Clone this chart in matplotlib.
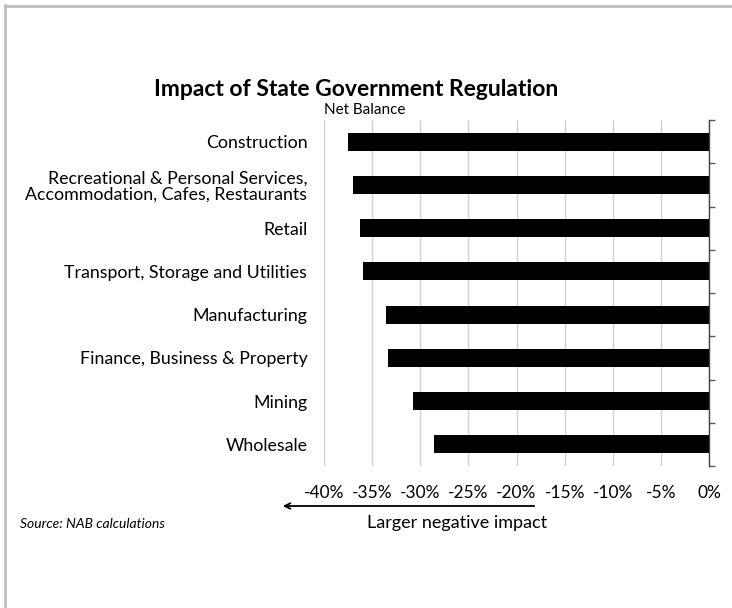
import numpy as np
import matplotlib
matplotlib.use("Agg")
import matplotlib.pyplot as plt
from matplotlib.ticker import FixedLocator, FuncFormatter
from matplotlib.lines import Line2D

plt.rcParams['font.family'] = ['Lato', 'DejaVu Sans']

categories = ["Construction",
              "Recreational & Personal Services,\nAccommodation, Cafes, Restaurants",
              "Retail",
              "Transport, Storage and Utilities",
              "Manufacturing",
              "Finance, Business & Property",
              "Mining",
              "Wholesale"]
net_balance = [-37.5, -37.0, -36.3, -36.0, -33.6, -33.4, -30.8, -28.6]
xticks = [-40, -35, -30, -25, -20, -15, -10, -5, 0]

fig = plt.figure(figsize=(7.32, 6.08), dpi=100)
ax = fig.add_axes([324/732, 1-466/608, 385/732, 346/608])

y = np.arange(len(categories))
ax.barh(y, net_balance, height=0.42, color="black", zorder=3)
ax.set_ylim(len(categories) - 0.5, -0.5)
ax.set_xlim(-40, 0)

# category labels on the left, no marks
ax.set_yticks(y)
ax.set_yticklabels(categories, fontsize=12.8, ha="right", linespacing=1.05)
ax.tick_params(axis="y", which="major", length=0, pad=12)
# boundary ticks on the right axis line
ax.yaxis.set_minor_locator(FixedLocator(np.arange(-0.5, len(categories), 1)))
ax.tick_params(axis="y", which="minor", left=False, right=True,
               direction="out", length=4, width=1, color="#595959")

ax.set_xticks(xticks)
ax.xaxis.set_major_formatter(FuncFormatter(lambda v, _: f"{v:.0f}%"))
ax.tick_params(axis="x", length=0, pad=14, labelsize=12.5)
ax.grid(axis="x", color="#d0d0d0", linewidth=1, zorder=0)

for s in ["left", "top", "bottom"]:
    ax.spines[s].set_visible(False)
ax.spines["right"].set_color("#404040")
ax.spines["right"].set_linewidth(1)
ax.spines["right"].set_zorder(4)

fig.text(356/732, 1-90/608, "Impact of State Government Regulation",
         fontsize=16.5, fontweight="bold", ha="center", va="center")
fig.text(324/732, 1-110/608, "Net Balance", fontsize=11, ha="left", va="center")

ax.annotate("", xy=(280/732, 1-506/608), xytext=(537/732, 1-506/608),
            xycoords="figure fraction",
            arrowprops=dict(arrowstyle="->", color="black", lw=1.3))
fig.text(457/732, 1-523/608, "Larger negative impact", fontsize=13,
         ha="center", va="center")
fig.text(20/732, 1-524/608, "Source: NAB calculations", fontsize=10,
         style="italic", ha="left", va="center")

# partial outer frame
fig.add_artist(Line2D([5/732, 5/732], [0, 1-5/608], color="#bfbfbf", lw=2,
                      transform=fig.transFigure))
fig.add_artist(Line2D([5/732, 1], [1-6/608, 1-6/608], color="#bfbfbf", lw=2,
                      transform=fig.transFigure))

fig.savefig("out.png", dpi=100)
